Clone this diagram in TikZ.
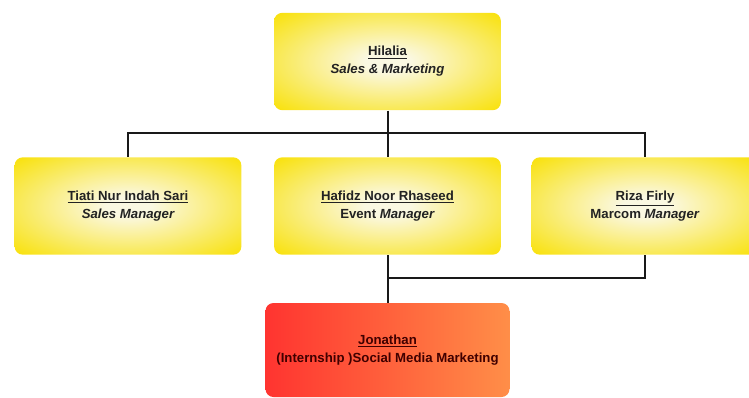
\documentclass[tikz,border=0pt]{standalone}
\usepackage{fontspec}
\setmainfont{Liberation Sans}
\usetikzlibrary{calc}

\definecolor{boxyellow}{RGB}{249,226,18}
\definecolor{boxcream}{RGB}{250,248,226}
\definecolor{internred}{RGB}{255,52,48}
\definecolor{internorange}{RGB}{255,142,72}
\definecolor{textgray}{RGB}{34,34,34}

\pgfdeclareradialshading{boxglow}{\pgfpoint{0bp}{0bp}}{%
  color(0bp)=(boxcream); color(5bp)=(boxcream); color(34bp)=(boxyellow); color(50bp)=(boxyellow)}

\tikzset{every picture/.style={line width=0.75pt}}
\tikzset{
  yellowbox/.style={rounded corners=6pt, shading=boxglow,
    minimum width=170pt, minimum height=73pt, align=center, text=textgray,
    font=\fontsize{9.9}{13.5}\selectfont\bfseries},
  internbox/.style={rounded corners=6pt, left color=internred, right color=internorange,
    minimum width=183pt, minimum height=70.5pt, align=center, text=black!75!red,
    font=\fontsize{9.9}{13.5}\selectfont\bfseries},
  orgline/.style={line width=1.5pt, black!90}
}

\begin{document}
\begin{tikzpicture}[x=0.75pt,y=0.75pt,yscale=-1,xscale=1]
  \useasboundingbox (0,0) rectangle (749,397);

  %Shape: Rectangle [top]
  \node [yellowbox] (head) at (387.5,61.5) {\underline{Hilalia}\\\itshape Sales \& Marketing};
  %Shape: Rectangle [left]
  \node [yellowbox] (sales) at (128,206) {\underline{Tiati Nur Indah Sari}\\\itshape Sales Manager};
  %Shape: Rectangle [middle]
  \node [yellowbox] (event) at (387.5,206) {\underline{Hafidz Noor Rhaseed}\\Event \textit{Manager}};
  %Shape: Rectangle [right]
  \node [yellowbox] (marcom) at (645,206) {\underline{Riza Firly}\\Marcom \textit{Manager}};
  %Shape: Rectangle [bottom]
  \node [internbox] (intern) at (387.5,350) {\underline{Jonathan}\\(Internship )Social Media Marketing};

  \coordinate (bus) at (387.5,133);
  \coordinate (join) at (387.5,278);

  %Straight Lines
  \draw [orgline] (head.south) -- (bus);
  \draw [orgline] (sales.north) -- (sales.north |- bus) -- (marcom.north |- bus) -- (marcom.north);
  \draw [orgline] (event.north) -- (event.north |- bus);
  %Straight Lines
  \draw [orgline] (event.south) -- (intern.north);
  \draw [orgline] (marcom.south) -- (marcom.south |- join) -- (join);

\end{tikzpicture}
\end{document}
